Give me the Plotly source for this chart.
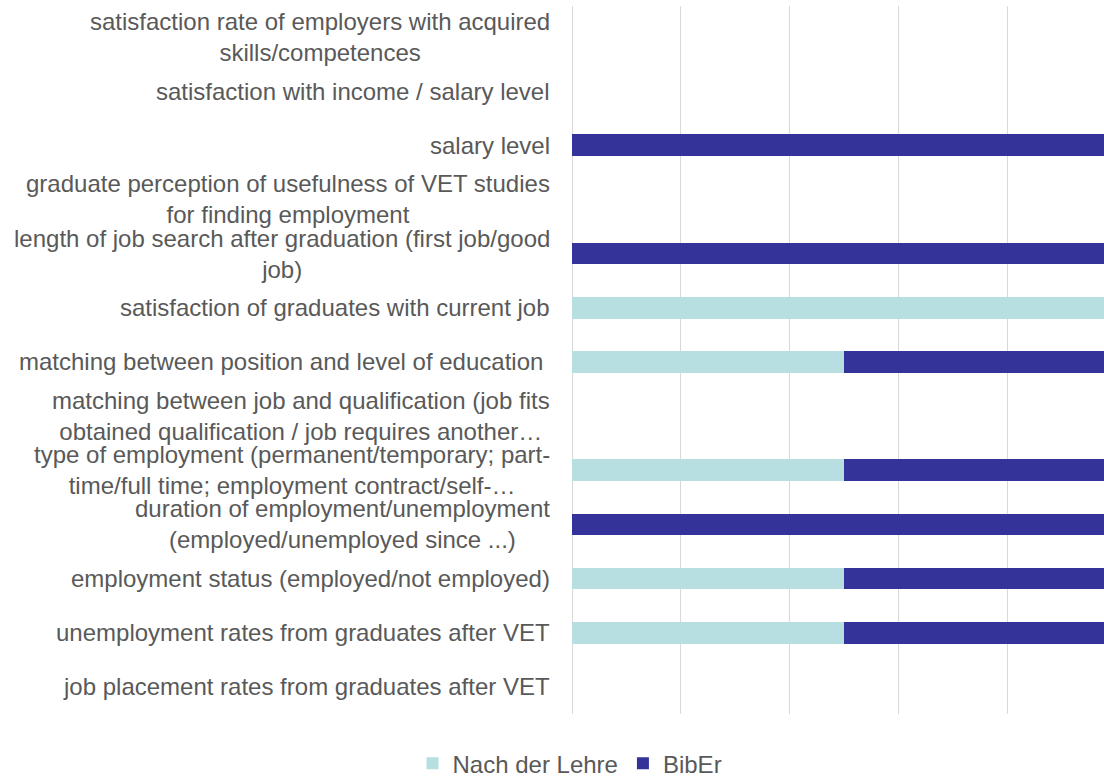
import plotly.graph_objects as go

# Categories listed top-to-bottom as they appear in the chart
categories = [
    "satisfaction rate of employers with acquired<br>skills/competences",
    "satisfaction with income / salary level",
    "salary level",
    "graduate perception of usefulness of VET studies<br>for finding employment",
    "length of job search after graduation (first job/good<br>job)",
    "satisfaction of graduates with current job",
    "matching between position and level of education\u00a0",
    "matching between job and qualification (job fits<br>obtained qualification / job requires another…",
    "type of employment (permanent/temporary; part-<br>time/full time; employment contract/self-…",
    "duration of employment/unemployment<br>(employed/unemployed since ...)",
    "employment status (employed/not employed)",
    "unemployment rates from graduates after VET",
    "job placement rates from graduates after VET",
]
nach_der_lehre = [0, 0, 0, 0, 0, 100, 50, 0, 50, 0, 50, 50, 0]
biber = [0, 0, 100, 0, 100, 0, 50, 0, 50, 100, 50, 50, 0]
series_names = ["Nach der Lehre", "BibEr"]

TEXT = "#595959"
FONT = "Liberation Sans, Arial, sans-serif"

fig = go.Figure()
fig.add_trace(go.Bar(y=categories, x=nach_der_lehre, orientation="h",
                     name=series_names[0], marker=dict(color="#b7dfe1", line=dict(width=0))))
fig.add_trace(go.Bar(y=categories, x=biber, orientation="h",
                     name=series_names[1], marker=dict(color="#333399", line=dict(width=0))))

for cat in categories:
    fig.add_annotation(x=0, xref="paper", y=cat, yref="y", xanchor="right", yanchor="middle",
                       xshift=-20, text=cat, showarrow=False, align="center",
                       font=dict(family=FONT, size=24, color=TEXT))

fig.update_layout(
    width=1104, height=776,
    margin=dict(l=572, r=0, t=6, b=62),
    barmode="stack", bargap=0.6,
    plot_bgcolor="white", paper_bgcolor="white",
    font=dict(family=FONT, size=24, color=TEXT),
    showlegend=True,
    legend=dict(orientation="h", xref="container", yref="container",
                x=0.5163, xanchor="center", y=0.016, yanchor="middle",
                font=dict(family=FONT, size=24, color=TEXT),
                itemwidth=30, traceorder="normal"),
    xaxis=dict(range=[0, 97.8], dtick=20, tick0=0, showgrid=True, gridcolor="#d9d9d9",
               gridwidth=1, zeroline=True, zerolinecolor="#d9d9d9", zerolinewidth=1,
               showticklabels=False, showline=False, fixedrange=True),
    yaxis=dict(categoryorder="array", categoryarray=categories, autorange="reversed",
               showticklabels=False, showgrid=False, showline=False, zeroline=False,
               ticks=""),
)

fig.write_html("out.html")
